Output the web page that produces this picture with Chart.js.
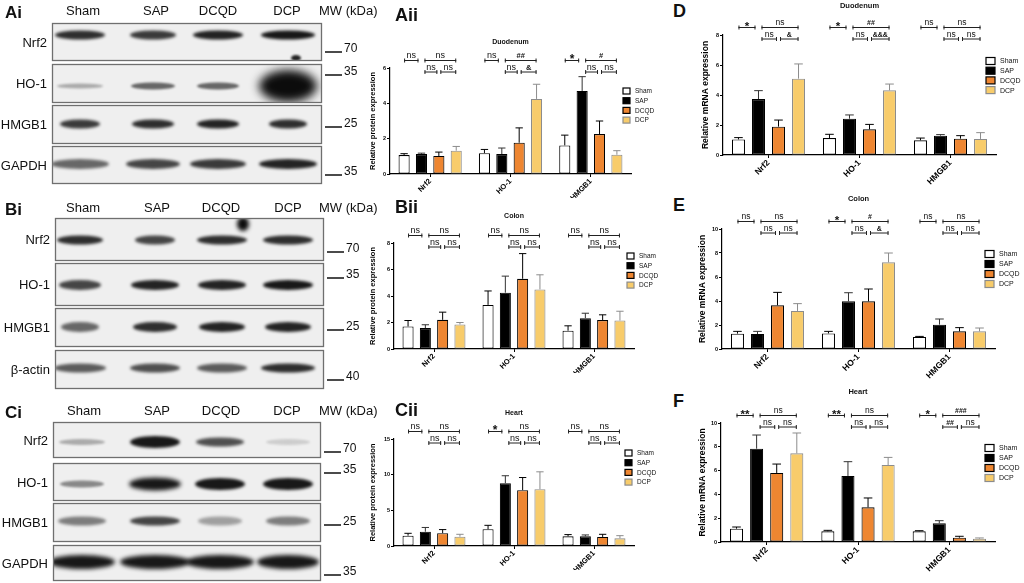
<!DOCTYPE html>
<html>
<head>
<meta charset="utf-8">
<script src="https://cdn.jsdelivr.net/npm/chart.js@4.4.1/dist/chart.umd.min.js"></script>
<style>
  body { margin: 0; background: #fff; width: 1024px; height: 583px; overflow: hidden; position: relative;
         font-family: "Liberation Sans", Arial, sans-serif; color: #111; }
  .box { position: absolute; }
  .t { position: absolute; white-space: nowrap; line-height: 1; transform: translateY(-50%); }
  .tr { position: absolute; white-space: nowrap; line-height: 1; transform: translate(-100%, -50%); }
  .tc { position: absolute; white-space: nowrap; line-height: 1; transform: translate(-50%, -50%); }
</style>
</head>
<body>
<canvas id="blots" width="362" height="583" style="position:absolute;left:0;top:0"></canvas>
<div id="labels"></div>
<div class="box"><canvas id="c-bii"></canvas></div>
<div class="box"><canvas id="c-aii"></canvas></div>
<div class="box"><canvas id="c-cii"></canvas></div>
<div class="box"><canvas id="c-d"></canvas></div>
<div class="box"><canvas id="c-e"></canvas></div>
<div class="box"><canvas id="c-f"></canvas></div>
<script>
// ---- data ----
const genes = ['Nrf2', 'HO-1', 'HMGB1'];
const groups = ['Sham', 'SAP', 'DCQD', 'DCP'];

// rows = Sham, SAP, DCQD, DCP ; columns = Nrf2, HO-1, HMGB1
const aiiMean = [[1.07, 1.18, 1.62], [1.13, 1.13, 4.70], [1.02, 1.77, 2.26], [1.32, 4.25, 1.09]];
const aiiErr  = [[0.08, 0.21, 0.58], [0.05, 0.34, 0.81], [0.22, 0.84, 0.74], [0.24, 0.83, 0.23]];
const biiMean = [[1.70, 3.33, 1.38], [1.58, 4.25, 2.33], [2.20, 5.30, 2.18], [1.85, 4.50, 2.15]];
const biiErr  = [[0.45, 1.05, 0.37], [0.25, 1.25, 0.37], [0.58, 1.90, 0.40], [0.15, 1.10, 0.70]];
const ciiMean = [[1.45, 2.35, 1.36], [2.00, 8.80, 1.36], [1.80, 7.83, 1.27], [1.30, 7.97, 1.08]];
const ciiErr  = [[0.33, 0.55, 0.24], [0.60, 1.05, 0.19], [0.50, 1.77, 0.37], [0.34, 2.43, 0.37]];
const dMean   = [[1.04, 1.13, 0.98], [3.73, 2.42, 1.29], [1.89, 1.71, 1.09], [5.09, 4.31, 1.07]];
const dErr    = [[0.12, 0.25, 0.15], [0.56, 0.25, 0.07], [0.44, 0.33, 0.20], [0.98, 0.42, 0.42]];
const eMean   = [[1.28, 1.30, 1.00], [1.25, 3.97, 2.03], [3.64, 3.97, 1.47], [3.17, 7.22, 1.47]];
const eErr    = [[0.19, 0.17, 0.05], [0.22, 0.72, 0.47], [1.08, 1.03, 0.31], [0.61, 0.78, 0.28]];
const fMean   = [[1.12, 0.90, 0.90], [7.84, 5.55, 1.57], [5.80, 2.91, 0.36], [7.45, 6.47, 0.28]];
const fErr    = [[0.14, 0.08, 0.05], [1.15, 1.20, 0.22], [0.75, 0.79, 0.12], [1.71, 0.64, 0.06]];

// per gene: [Sham-SAP, SAP-DCP, SAP-DCQD, DCQD-DCP]
const aiiSig = [['ns', 'ns', 'ns', 'ns'], ['ns', '##', 'ns', '&'], ['*', '#', 'ns', 'ns']];
const biiSig = [['ns', 'ns', 'ns', 'ns'], ['ns', 'ns', 'ns', 'ns'], ['ns', 'ns', 'ns', 'ns']];
const ciiSig = [['ns', 'ns', 'ns', 'ns'], ['*', 'ns', 'ns', 'ns'], ['ns', 'ns', 'ns', 'ns']];
const dSig   = [['*', 'ns', 'ns', '&'], ['*', '##', 'ns', '&&&'], ['ns', 'ns', 'ns', 'ns']];
const eSig   = [['ns', 'ns', 'ns', 'ns'], ['*', '#', 'ns', '&'], ['ns', 'ns', 'ns', 'ns']];
const fSig   = [['**', 'ns', 'ns', 'ns'], ['**', 'ns', 'ns', 'ns'], ['*', '###', '##', 'ns']];

const aiiTicks = [0, 2, 4, 6];
const biiTicks = [0, 2, 4, 6, 8];
const ciiTicks = [0, 5, 10, 15];
const dTicks = [0, 2, 4, 6, 8];
const eTicks = [0, 2, 4, 6, 8, 10];
const fTicks = [0, 2, 4, 6, 8, 10];

// western blot band darkness, rows x lanes (Sham, SAP, DCQD, DCP)
const aiBands = [[0.85, 0.8, 0.9, 0.95], [0.3, 0.6, 0.6, 1], [0.8, 0.85, 0.9, 0.85], [0.6, 0.75, 0.8, 0.9]];
const biBands = [[0.85, 0.75, 0.85, 0.85], [0.75, 0.9, 0.9, 0.95], [0.6, 0.85, 0.9, 0.9], [0.65, 0.7, 0.65, 0.85]];
const ciBands = [[0.3, 0.95, 0.7, 0.15], [0.45, 0.95, 0.95, 0.95], [0.5, 0.75, 0.35, 0.5], [0.95, 0.95, 0.95, 0.95]];

// ---- styles ----
const groupFill = ['#ffffff', '#000000', '#ee8631', '#f8cc6b'];
const groupLine = ['#000000', '#000000', '#000000', '#8c8c8c'];
Chart.defaults.font.family = "'Liberation Sans', Arial, sans-serif";
Chart.defaults.color = '#000';

// ---- text labels ----
const labelsDiv = document.getElementById('labels');
function txt(x, y, s, css, cls) {
  const d = document.createElement('div');
  d.className = cls || 't';
  d.style.left = x + 'px';
  d.style.top = y + 'px';
  d.style.cssText += css || '';
  d.textContent = s;
  labelsDiv.appendChild(d);
}

// ---- blots ----
const bctx = document.getElementById('blots').getContext('2d');
function band(cx, cy, w, h, a) {
  bctx.save();
  bctx.filter = 'blur(' + Math.max(1.1, h * 0.15) + 'px)';
  bctx.fillStyle = 'rgba(12,12,12,' + a + ')';
  bctx.beginPath();
  bctx.ellipse(cx, cy, w / 2, h / 2, 0, 0, Math.PI * 2);
  bctx.fill();
  bctx.restore();
}
function blot(p) {
  p.rows.forEach((r, i) => {
    bctx.save();
    bctx.beginPath();
    bctx.rect(p.x0, r[0], p.x1 - p.x0, r[1] - r[0]);
    bctx.fillStyle = '#efefef';
    bctx.fill();
    bctx.clip();
    p.lanes.forEach((lx, j) => {
      const h = Array.isArray(r[3]) ? r[3][j] : r[3];
      const w = Array.isArray(r[4]) ? r[4][j] : r[4];
      band(lx, r[2], w, h, p.bands[i][j]);
    });
    (p.spots[i] || []).forEach(s => band(s[0], s[1], s[2], s[3], s[4]));
    bctx.restore();
    bctx.strokeStyle = '#6f6f6f';
    bctx.lineWidth = 1.3;
    bctx.strokeRect(p.x0 + 0.5, r[0] + 0.5, p.x1 - p.x0, r[1] - r[0]);
    txt(p.x0 - 5, (r[0] + r[1]) / 2, p.names[i], 'font-size:13px;', 'tr');
  });
  p.heads.forEach((h, j) => txt(h, p.headY, groups[j], 'font-size:13px;', 'tc'));
  txt(319, p.headY, 'MW (kDa)', 'font-size:13px;');
  p.marks.forEach(m => {
    bctx.fillStyle = '#111';
    bctx.fillRect(p.x1 + 4, m[0] - 0.75, 17, 1.5);
    txt(p.x1 + 23, m[0] - 4, m[1], 'font-size:12px;');
  });
  txt(5, p.headY + 2, p.tag, 'font-size:17px;font-weight:bold;');
}
blot({ tag: 'Ai', x0: 52, x1: 321, headY: 10, heads: [83, 156, 218, 287], lanes: [80, 153, 218, 288],
  names: ['Nrf2', 'HO-1', 'HMGB1', 'GAPDH'], bands: aiBands,
  rows: [[23, 60, 35, 9, [50, 46, 50, 54]], [64, 102, 86, [5, 7, 7, 32], [46, 44, 42, 58]],
         [105, 143, 124, 9, [40, 42, 42, 38]], [146, 183, 164, 10, [58, 54, 56, 58]]],
  spots: [[[296, 58, 10, 6, 0.9]], [], [], []],
  marks: [[52, '70'], [75, '35'], [127, '25'], [175, '35']] });
blot({ tag: 'Bi', x0: 55, x1: 323, headY: 207, heads: [83, 157, 221, 288], lanes: [80, 155, 222, 288],
  names: ['Nrf2', 'HO-1', 'HMGB1', '\u03b2-actin'], bands: biBands,
  rows: [[218, 260, 240, 9, [46, 40, 50, 50]], [263, 305, 285, 10, [42, 48, 48, 50]],
         [308, 346, 327, 10, [38, 44, 46, 46]], [350, 388, 368, 9, [52, 50, 50, 54]]],
  spots: [[[243, 224, 12, 14, 1]], [], [], []],
  marks: [[252, '70'], [278, '35'], [330, '25'], [380, '40']] });
blot({ tag: 'Ci', x0: 53, x1: 320, headY: 410, heads: [84, 157, 221, 287], lanes: [82, 155, 220, 288],
  names: ['Nrf2', 'HO-1', 'HMGB1', 'GAPDH'], bands: ciBands,
  rows: [[422, 457, 442, [6, 12, 9, 6], [46, 50, 48, 44]], [463, 500, 484, [7, 13, 12, 12], [44, 52, 50, 50]],
         [503, 541, 521, 9, [48, 50, 44, 44]], [545, 580, 562, 14, [66, 70, 68, 62]]],
  spots: [[], [], [], []],
  marks: [[452, '70'], [473, '35'], [525, '25'], [575, '35']] });

// ---- chart overlay: error bars, significance brackets, title, legend ----
const extras = {
  id: 'extras',
  afterDatasetsDraw(chart, args, o) {
    const ctx = chart.ctx, ys = chart.scales.y, a = chart.chartArea;
    const fam = Chart.defaults.font.family;
    ctx.save();
    chart.data.datasets.forEach((ds, i) => {
      chart.getDatasetMeta(i).data.forEach((bar, j) => {
        const top = ys.getPixelForValue(ds.data[j] + ds.errors[j]);
        const cap = bar.width * 0.33;
        ctx.strokeStyle = i === 1 ? '#333' : ds.borderColor;
        ctx.lineWidth = 1;
        ctx.beginPath();
        ctx.moveTo(bar.x, bar.y);
        ctx.lineTo(bar.x, top);
        ctx.moveTo(bar.x - cap, top);
        ctx.lineTo(bar.x + cap, top);
        ctx.stroke();
      });
    });
    // brackets
    ctx.strokeStyle = '#222';
    ctx.fillStyle = '#111';
    ctx.textAlign = 'center';
    o.sig.forEach((row, j) => {
      const c = [0, 1, 2, 3].map(i => chart.getDatasetMeta(i).data[j].x);
      const spans = [[c[0], c[1] - 3], [c[1] + 3, c[3]], [c[1] + 3, c[2] - 1.5], [c[2] + 1.5, c[3]]];
      const lv = [a.top - 7.5, a.top - 7.5, a.top + 4, a.top + 4];
      row.forEach((s, k) => {
        const y = lv[k], x1 = spans[k][0], x2 = spans[k][1];
        ctx.lineWidth = 1;
        ctx.beginPath();
        ctx.moveTo(x1, y); ctx.lineTo(x2, y);
        ctx.moveTo(x1 + 0.5, y - 2); ctx.lineTo(x1 + 0.5, y + 2);
        ctx.moveTo(x2 - 0.5, y - 2); ctx.lineTo(x2 - 0.5, y + 2);
        ctx.stroke();
        if (s === 'ns') {
          ctx.font = o.sigSize + 'px ' + fam;
          ctx.fillText(s, (x1 + x2) / 2, y - 2.5);
        } else if (s.indexOf('*') >= 0) {
          ctx.font = 'bold ' + (o.sigSize + 3) + 'px ' + fam;
          ctx.fillText(s, (x1 + x2) / 2, y + 2);
        } else {
          ctx.font = 'bold ' + (o.sigSize - 1.5) + 'px ' + fam;
          ctx.fillText(s, (x1 + x2) / 2, y - 2.5);
        }
      });
    });
    // title
    ctx.font = 'bold ' + o.titleSize + 'px ' + fam;
    ctx.textBaseline = 'middle';
    ctx.fillText(o.title, (a.left + a.right) / 2, o.titleY);
    // legend
    ctx.textAlign = 'left';
    ctx.font = o.legSize + 'px ' + fam;
    chart.data.datasets.forEach((ds, i) => {
      const y = o.legY + i * o.legGap;
      ctx.fillStyle = ds.backgroundColor;
      ctx.fillRect(o.legX, y - o.boxH / 2, o.boxW, o.boxH);
      ctx.strokeStyle = ds.borderColor;
      ctx.lineWidth = 1.2;
      ctx.strokeRect(o.legX, y - o.boxH / 2, o.boxW, o.boxH);
      ctx.fillStyle = '#111';
      ctx.fillText(ds.label, o.legX + o.boxW + 5, y + 0.5);
    });
    ctx.restore();
  }
};

function barChart(id, g, means, errs, sig, ticks, yTitle, title, f) {
  const canvas = document.getElementById(id);
  const box = canvas.parentNode;
  box.style.left = g.left + 'px';
  box.style.top = g.top + 'px';
  box.style.width = g.w + 'px';
  box.style.height = g.h + 'px';
  const datasets = groups.map((name, i) => ({
    label: name,
    data: means[i],
    errors: errs[i],
    backgroundColor: groupFill[i],
    borderColor: groupLine[i],
    borderWidth: 1.1,
    borderSkipped: false,
    categoryPercentage: f.cat,
    barPercentage: f.bar
  }));
  return new Chart(canvas, {
    type: 'bar',
    data: { labels: genes, datasets: datasets },
    options: {
      responsive: true,
      maintainAspectRatio: false,
      animation: false,
      layout: { padding: {
        left: g.l - g.left - g.yW,
        right: g.left + g.w - g.r,
        top: g.t - g.top,
        bottom: g.top + g.h - g.b - g.xH
      } },
      plugins: {
        legend: { display: false },
        tooltip: { enabled: false },
        extras: {
          sig: sig, sigSize: f.sig, title: title, titleSize: f.title, titleY: g.titleY - g.top,
          legX: g.legX - g.left, legY: g.legY - g.top, legGap: g.legGap,
          legSize: f.leg, boxW: f.boxW, boxH: f.boxH
        }
      },
      scales: {
        x: {
          afterFit: s => { s.height = g.xH; },
          border: { color: '#000', width: 1.2 },
          grid: { drawOnChartArea: false, offset: false, tickLength: 3, color: '#000' },
          ticks: { minRotation: 45, maxRotation: 45, padding: 0, color: '#000',
                   font: { size: f.xTick, weight: 'bold' } }
        },
        y: {
          min: 0,
          max: ticks[ticks.length - 1],
          afterBuildTicks: s => { s.ticks = ticks.map(v => ({ value: v })); },
          afterFit: s => { s.width = g.yW; },
          border: { color: '#000', width: 1.2 },
          grid: { drawOnChartArea: false, tickLength: 3, color: '#000' },
          ticks: { padding: 1, color: '#000', font: { size: 5.5, weight: 'bold' } },
          title: { display: true, text: yTitle, padding: 0, color: '#000',
                   font: { size: f.yTitle, weight: 'bold' } }
        }
      }
    },
    plugins: [extras]
  });
}

const midFont = { cat: 0.865, bar: 0.64, sig: 9, title: 7, leg: 6.5, boxW: 7, boxH: 6, xTick: 7.5, yTitle: 7.5 };
const rightFont = { cat: 0.88, bar: 0.65, sig: 8.5, title: 7.5, leg: 7, boxW: 9, boxH: 7, xTick: 8.5, yTitle: 8.5 };

barChart('c-aii', { left: 362, top: 30, w: 303, h: 178, l: 390, t: 68, r: 631, b: 174, yW: 22, xH: 24,
  titleY: 42, legX: 623, legY: 91, legGap: 9.7 },
  aiiMean, aiiErr, aiiSig, aiiTicks, 'Relative protein expression', 'Duodenum', midFont);
barChart('c-bii', { left: 362, top: 209, w: 303, h: 176, l: 394, t: 243, r: 634, b: 349, yW: 26, xH: 24,
  titleY: 216, legX: 627, legY: 256, legGap: 9.7 },
  biiMean, biiErr, biiSig, biiTicks, 'Relative protein expression', 'Colon', midFont);
barChart('c-cii', { left: 362, top: 398, w: 303, h: 185, l: 394, t: 439, r: 634, b: 546, yW: 26, xH: 24,
  titleY: 413, legX: 625, legY: 453, legGap: 9.7 },
  ciiMean, ciiErr, ciiSig, ciiTicks, 'Relative protein expression', 'Heart', midFont);
barChart('c-d', { left: 670, top: 0, w: 354, h: 190, l: 723, t: 35, r: 996, b: 155, yW: 22, xH: 30,
  titleY: 6, legX: 986, legY: 61, legGap: 9.7 },
  dMean, dErr, dSig, dTicks, 'Relative mRNA expression', 'Duodenum', rightFont);
barChart('c-e', { left: 670, top: 190, w: 354, h: 195, l: 722, t: 229, r: 995, b: 349, yW: 24, xH: 30,
  titleY: 199, legX: 985, legY: 254, legGap: 10 },
  eMean, eErr, eSig, eTicks, 'Relative mRNA expression', 'Colon', rightFont);
barChart('c-f', { left: 670, top: 385, w: 354, h: 198, l: 721, t: 423, r: 995, b: 542, yW: 23, xH: 30,
  titleY: 392, legX: 985, legY: 448, legGap: 10 },
  fMean, fErr, fSig, fTicks, 'Relative mRNA expression', 'Heart', rightFont);

// panel letters
txt(395, 15, 'Aii', 'font-size:18px;font-weight:bold;');
txt(395, 207, 'Bii', 'font-size:18px;font-weight:bold;');
txt(395, 410, 'Cii', 'font-size:18px;font-weight:bold;');
txt(673, 11, 'D', 'font-size:18px;font-weight:bold;');
txt(673, 205, 'E', 'font-size:18px;font-weight:bold;');
txt(673, 401, 'F', 'font-size:18px;font-weight:bold;');
</script>
</body>
</html>
